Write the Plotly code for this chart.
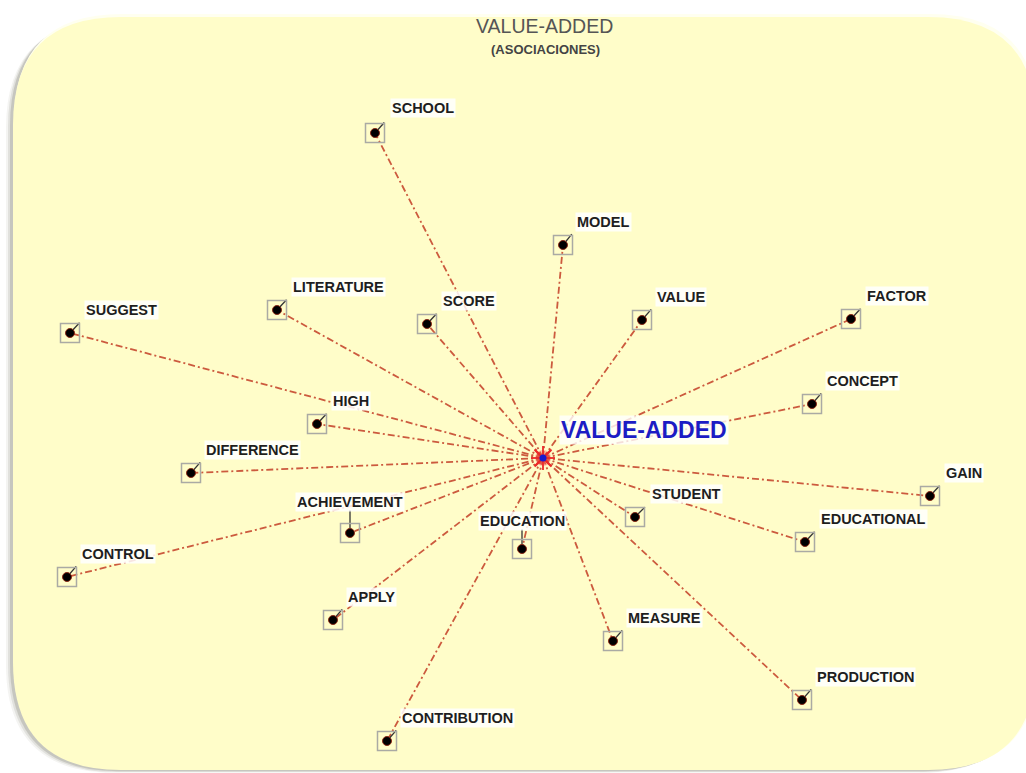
import plotly.graph_objects as go
import math

W, H = 1026, 773

# ---- data (network layout, in pixel units) ----
center_name = "VALUE-ADDED"
center_x, center_y = 543, 458

names = ["SCHOOL", "MODEL", "LITERATURE", "SCORE", "VALUE", "FACTOR", "SUGGEST",
         "CONCEPT", "HIGH", "DIFFERENCE", "GAIN", "ACHIEVEMENT", "STUDENT",
         "EDUCATION", "EDUCATIONAL", "CONTROL", "APPLY", "MEASURE",
         "PRODUCTION", "CONTRIBUTION"]
node_x = [375, 563, 277, 427, 642, 851, 70, 812, 317, 191, 930, 350, 635,
          522, 805, 67, 333, 613, 802, 387]
node_y = [133, 245, 310, 324, 320, 319, 333, 404, 424, 473, 496, 533, 517,
          549, 542, 577, 620, 641, 700, 741]
label_x = [390, 575, 291, 441, 655, 865, 84, 825, 331, 204, 944, 295, 650,
           478, 819, 80, 346, 626, 815, 400]
label_y = [108, 222, 287, 301, 297, 296, 310, 381, 401, 450, 473, 502, 494,
           521, 519, 554, 597, 618, 677, 718]
label_w = [62, 55, 93, 52, 51, 62, 73, 74, 37, 95, 37, 108, 68, 89, 107, 72,
           50, 74, 100, 114]

title = "VALUE-ADDED"
subtitle = "(ASOCIACIONES)"

FONT = "Liberation Sans, Arial, sans-serif"

fig = go.Figure()

# ---- background panel ----
def rrect(x0, y0, x1, y1, r):
    return (f"M {x0+r},{y0} L {x1-r},{y0} Q {x1},{y0} {x1},{y0+r} "
            f"L {x1},{y1-r} Q {x1},{y1} {x1-r},{y1} L {x0+r},{y1} "
            f"Q {x0},{y1} {x0},{y1-r} L {x0},{y0+r} Q {x0},{y0} {x0+r},{y0} Z")

shapes = []
for off, op in [(7, 0.06), (5, 0.10), (3, 0.16)]:
    shapes.append(dict(type="path", path=rrect(13 - off, 16 + off * 0.6, 1036 - off, 770 + off * 0.4, 108),
                       fillcolor=f"rgba(60,60,40,{op})", line=dict(width=0), layer="below"))
shapes.append(dict(type="path", path=rrect(14, 14, 1038, 769, 108),
                   fillcolor="#fffff0", line=dict(width=0), layer="below"))
shapes.append(dict(type="path", path=rrect(13, 17, 1036, 770, 108),
                   fillcolor="#fffdc9", line=dict(width=0), layer="below"))
fig.update_layout(shapes=shapes)

# ---- edges ----
ex, ey = [], []
for x, y in zip(node_x, node_y):
    ex += [center_x, x, None]
    ey += [center_y, y, None]
fig.add_trace(go.Scatter(x=ex, y=ey, mode="lines", hoverinfo="skip",
                         line=dict(color="#cc5a3e", width=1.8, dash="7px,3px,2px,3px")))

# ---- connectors from dot to label ----
cx, cy = [], []
for x, y, lx, ly, lw in zip(node_x, node_y, label_x, label_y, label_w):
    px = min(max(x, lx), lx + lw)
    py = min(max(y, ly - 8), ly + 8)
    dx, dy = px - x, py - y
    d = math.hypot(dx, dy)
    L = min(d, 14) if px != x else d
    cx += [x, x + dx / d * L, None]
    cy += [y, y + dy / d * L, None]
fig.add_trace(go.Scatter(x=cx, y=cy, mode="lines", hoverinfo="skip",
                         line=dict(color="#333333", width=1.3)))

# ---- node boxes and dots ----
fig.add_trace(go.Scatter(x=node_x, y=node_y, mode="markers", hoverinfo="skip",
                         marker=dict(symbol="square-open", size=19, color="#aaaaa4",
                                     line=dict(color="#aaaaa4", width=1.5))))
fig.add_trace(go.Scatter(x=node_x, y=node_y, mode="markers", hoverinfo="skip",
                         marker=dict(symbol="circle", size=9, color="#000000",
                                     line=dict(color="#8a2a18", width=1))))

# ---- center burst ----
fig.add_trace(go.Scatter(x=[center_x], y=[center_y], mode="markers", hoverinfo="skip",
                         marker=dict(symbol="circle", size=16, color="rgba(255,80,80,0.35)",
                                     line=dict(width=0))))
fig.add_trace(go.Scatter(x=[center_x], y=[center_y], mode="markers", hoverinfo="skip",
                         marker=dict(symbol="asterisk-open", size=20, color="rgba(235,40,40,0.9)",
                                     line=dict(color="rgba(235,40,40,0.9)", width=2))))
fig.add_trace(go.Scatter(x=[center_x], y=[center_y], mode="markers", hoverinfo="skip",
                         marker=dict(symbol="x-thin-open", size=16, color="rgba(235,40,40,0.9)",
                                     line=dict(color="rgba(235,40,40,0.9)", width=2))))
fig.add_trace(go.Scatter(x=[center_x], y=[center_y], mode="markers", hoverinfo="skip",
                         marker=dict(symbol="circle", size=7, color="#1a1acc")))

# ---- labels ----
ann = []
for n, lx, ly in zip(names, label_x, label_y):
    ann.append(dict(x=lx, y=ly, text=f"<b>{n}</b>", showarrow=False, xanchor="left",
                    yanchor="middle", xref="x", yref="y",
                    font=dict(family=FONT, size=14.5, color="#1e1e1e"),
                    bgcolor="rgba(255,255,255,0.85)", borderpad=1))
ann.append(dict(x=559, y=430, text=f"<b>{center_name}</b>", showarrow=False, xanchor="left",
                yanchor="middle", xref="x", yref="y",
                font=dict(family=FONT, size=23, color="#1c1cc4"),
                bgcolor="rgba(255,255,255,0.8)", borderpad=1))
ann.append(dict(x=544, y=26, text=title, showarrow=False, xanchor="center", yanchor="middle",
                xref="x", yref="y", font=dict(family=FONT, size=19.5, color="#555555")))
ann.append(dict(x=545, y=49, text=f"<b>{subtitle}</b>", showarrow=False, xanchor="center",
                yanchor="middle", xref="x", yref="y",
                font=dict(family=FONT, size=13, color="#444444")))

fig.update_layout(
    width=W, height=H, margin=dict(l=0, r=0, t=0, b=0),
    paper_bgcolor="white", plot_bgcolor="white", showlegend=False,
    xaxis=dict(range=[0, W], visible=False, fixedrange=True),
    yaxis=dict(range=[H, 0], visible=False, fixedrange=True),
    annotations=ann,
)

fig.write_html("out.html", config={"displayModeBar": False},
               post_script="document.body.style.margin='0px';document.body.style.overflow='hidden';")
